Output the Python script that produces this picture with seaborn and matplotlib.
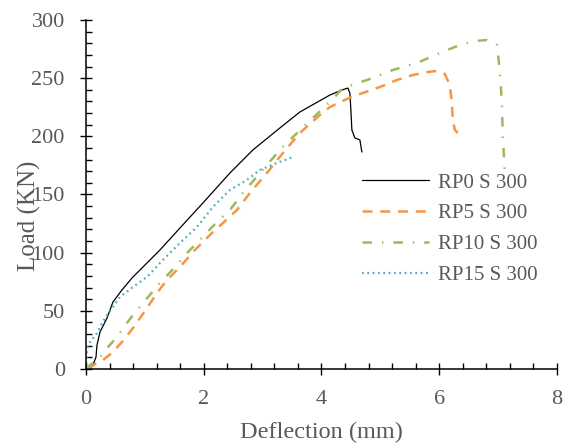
import numpy as np
import pandas as pd
import matplotlib
matplotlib.use('Agg')
import matplotlib.pyplot as plt
import seaborn as sns
from matplotlib.ticker import MultipleLocator

# load-deflection curves
rp0_x = [0, 0.068, 0.119, 0.17, 0.187, 0.238, 0.357, 0.458, 0.611, 0.781, 0.968, 1.256, 1.596,
         1.986, 2.445, 2.835, 3.294, 3.633, 4.143, 4.346, 4.448, 4.482, 4.499, 4.516, 4.567, 4.652, 4.686]
rp0_y = [0, 0.9, 3.4, 10.3, 20.6, 31.8, 43.8, 57.6, 67.9, 78.2, 87.7, 102.3, 121.2,
         142.7, 168.5, 188.3, 207.2, 220.9, 235.5, 239.8, 241.5, 237.3, 222.6, 205.4, 198.6, 196.9, 186.5]

rp5_x = [0.034, 0.204, 0.289, 0.441, 0.628, 0.798, 1.036, 1.205, 1.375, 1.596, 1.851, 2.139, 2.326,
         2.564, 2.784, 3.073, 3.345, 3.633, 3.973, 4.143, 4.431, 4.703, 4.992, 5.28, 5.552, 5.807,
         5.959, 6.095, 6.18, 6.214, 6.231, 6.265, 6.316]
rp5_y = [0, 6.0, 7.7, 13.8, 24.1, 35.2, 52.4, 65.3, 76.5, 87.7, 102.3, 116.9, 125.5,
         136.7, 151.3, 168.5, 185.7, 202.9, 218.3, 225.2, 232.1, 237.3, 242.4, 248.4, 252.7, 255.3,
         256.2, 253.6, 244.1, 228.7, 214.0, 205.4, 202.9]

rp10_x = [0, 0.068, 0.204, 0.374, 0.526, 0.696, 0.798, 0.968, 1.256, 1.545, 1.715, 1.885, 2.224,
          2.445, 2.666, 2.954, 3.294, 3.514, 3.854, 4.143, 4.363, 4.771, 5.212, 5.62, 6.01, 6.35,
          6.604, 6.808, 6.978, 7.029, 7.063, 7.08, 7.114]
rp10_y = [0, 3.4, 7.7, 18.9, 27.5, 39.5, 46.4, 56.7, 73.9, 89.4, 99.7, 108.3, 126.4,
          136.7, 151.3, 168.5, 188.3, 199.4, 215.8, 229.5, 241.5, 248.4, 257.0, 263.0, 271.6, 278.5,
          281.9, 282.8, 278.5, 257.0, 228.7, 199.4, 168.5]

rp15_x = [0, 0.008, 0.017, 0.068, 0.187, 0.272, 0.357, 0.577, 0.798, 1.036, 1.307, 1.596, 1.885,
          2.156, 2.445, 2.733, 2.954, 3.243, 3.514]
rp15_y = [0, 9.5, 18.1, 23.2, 30.9, 39.5, 46.4, 61.9, 70.5, 79.1, 93.7, 108.3, 122.1,
          139.3, 153.9, 162.5, 171.1, 177.1, 182.2]

labels = ['RP0 S 300', 'RP5 S 300', 'RP10 S 300', 'RP15 S 300']
colors = ['#000000', '#F79646', '#9BBB59', '#4BACC6']

sns.set_style('ticks')
plt.rcParams['font.family'] = ['Liberation Serif', 'DejaVu Serif']
grey = '#595959'

fig = plt.figure(figsize=(5.74, 4.47), dpi=100)
ax = fig.add_axes([0.1498, 0.1745, 0.8206, 0.7808])

series = [(rp0_x, rp0_y), (rp5_x, rp5_y), (rp10_x, rp10_y), (rp15_x, rp15_y)]
frames = []
for (xs, ys), lab in zip(series, labels):
    frames.append(pd.DataFrame({'x': xs, 'y': ys, 'name': lab}))
df = pd.concat(frames, ignore_index=True)

styles = {
    'RP0 S 300': dict(lw=0.9, ls='-'),
    'RP5 S 300': dict(lw=1.8, ls=(0, (4.0, 3.1))),
    'RP10 S 300': dict(lw=1.8, ls=(0, (3.8, 4.0, 0.55, 4.0))),
    'RP15 S 300': dict(lw=1.6, ls=(0, (0.8, 1.6))),
}
for lab, col in zip(labels, colors):
    sub = df[df['name'] == lab]
    sns.lineplot(data=sub, x='x', y='y', ax=ax, color=col, label=lab, sort=False,
                 estimator=None, linewidth=styles[lab]['lw'], linestyle=styles[lab]['ls'])

ax.set_xlim(0, 8)
ax.set_ylim(0, 300)
ax.xaxis.set_major_locator(MultipleLocator(2))
ax.xaxis.set_minor_locator(MultipleLocator(0.4))
ax.yaxis.set_major_locator(MultipleLocator(50))
ax.yaxis.set_minor_locator(MultipleLocator(10))
ax.tick_params(which='major', direction='inout', length=8.5, width=1.0, colors='black',
               labelcolor=grey, labelsize=16, pad=11)
ax.tick_params(which='minor', direction='in', length=4.3, width=1.0, colors='black')
for s in ['top', 'right']:
    ax.spines[s].set_visible(False)
for s in ['left', 'bottom']:
    ax.spines[s].set_linewidth(1.1)
    ax.spines[s].set_color('black')

ax.set_xlabel('Deflection (mm)', fontsize=17.5, color=grey, labelpad=9)
ax.set_ylabel('Load (KN)', fontsize=18, color=grey)
ax.yaxis.set_label_coords(-0.096, 0.44)

leg = ax.legend(loc='upper left', bbox_to_anchor=(0.6307, 0.613), bbox_transform=fig.transFigure,
                frameon=False, fontsize=15, handlelength=3.2, handletextpad=0.45,
                labelspacing=0.54, borderpad=0, borderaxespad=0)
for t in leg.get_texts():
    t.set_color(grey)

fig.savefig('out.png', dpi=100)
